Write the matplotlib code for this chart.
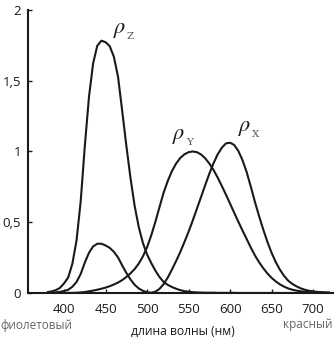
import matplotlib
matplotlib.use("Agg")
import matplotlib.pyplot as plt

# colour matching curves (5 nm steps)
wavelength = list(range(380, 725, 5))
rho_x = [0.001, 0.002, 0.004, 0.008, 0.014, 0.023, 0.044, 0.078, 0.134, 0.215,
         0.284, 0.329, 0.348, 0.348, 0.336, 0.319, 0.291, 0.251, 0.195, 0.142,
         0.096, 0.058, 0.032, 0.015, 0.005, 0.002, 0.009, 0.029, 0.063, 0.110,
         0.166, 0.226, 0.290, 0.360, 0.433, 0.512, 0.595, 0.678, 0.762, 0.843,
         0.916, 0.979, 1.026, 1.057, 1.062, 1.046, 1.003, 0.938, 0.854, 0.751,
         0.642, 0.542, 0.448, 0.361, 0.284, 0.219, 0.165, 0.121, 0.087, 0.064,
         0.047, 0.033, 0.023, 0.016, 0.011, 0.008, 0.006, 0.004, 0.003]
rho_y = [0.000, 0.000, 0.000, 0.000, 0.000, 0.001, 0.001, 0.002, 0.004, 0.007,
         0.012, 0.017, 0.023, 0.030, 0.038, 0.048, 0.060, 0.074, 0.091, 0.113,
         0.139, 0.169, 0.208, 0.259, 0.323, 0.407, 0.503, 0.608, 0.710, 0.793,
         0.862, 0.915, 0.954, 0.980, 0.995, 1.000, 0.995, 0.979, 0.952, 0.915,
         0.870, 0.816, 0.757, 0.695, 0.631, 0.567, 0.503, 0.441, 0.381, 0.321,
         0.265, 0.217, 0.175, 0.138, 0.107, 0.082, 0.061, 0.045, 0.032, 0.023,
         0.017, 0.012, 0.008, 0.006, 0.004, 0.003, 0.002, 0.001, 0.001]
rho_z = [0.006, 0.011, 0.020, 0.036, 0.068, 0.110, 0.207, 0.371, 0.646, 1.039,
         1.386, 1.623, 1.747, 1.783, 1.772, 1.744, 1.669, 1.528, 1.288, 1.042,
         0.813, 0.616, 0.465, 0.353, 0.272, 0.212, 0.158, 0.112, 0.078, 0.057,
         0.042, 0.030, 0.020, 0.013, 0.009, 0.006, 0.004, 0.003, 0.002, 0.002,
         0.002, 0.001, 0.001, 0.001, 0.001, 0.001, 0.000, 0.000, 0.000, 0.000,
         0.000, 0.000, 0.000, 0.000, 0.000, 0.000, 0.000, 0.000, 0.000, 0.000,
         0.000, 0.000, 0.000, 0.000, 0.000, 0.000, 0.000, 0.000, 0.000]

x_ticks = [400, 450, 500, 550, 600, 650, 700]
y_ticks = [0, 0.5, 1, 1.5, 2]
y_tick_labels = ["0", "0,5", "1", "1,5", "2"]

plt.rcParams["font.family"] = ["Open Sans", "DejaVu Sans"]

fig = plt.figure(figsize=(3.34, 3.41), dpi=100)
ax = fig.add_axes([0.084, 0.1408, 0.913, 0.830])

for curve in (rho_x, rho_y, rho_z):
    ax.plot(wavelength, curve, color="#1a1a1a", lw=1.5,
            solid_joinstyle="round", solid_capstyle="round")

ax.set_xlim(356.6, 724)
ax.set_ylim(0, 2)
ax.set_xticks(x_ticks)
ax.set_yticks(y_ticks)
ax.set_yticklabels(y_tick_labels)

for side in ("top", "right"):
    ax.spines[side].set_visible(False)
for side in ("left", "bottom"):
    ax.spines[side].set_linewidth(1.5)
    ax.spines[side].set_color("#1a1a1a")

ax.tick_params(axis="x", direction="in", length=3, width=1, pad=7,
               labelsize=9.5, colors="#1a1a1a")
ax.tick_params(axis="y", direction="in", length=3, width=1, pad=5,
               labelsize=9.5, colors="#1a1a1a")

# curve labels: italic rho with small grey serif subscript
labels = [("Z", 459, 1.86), ("Y", 530, 1.11), ("X", 610, 1.17)]
for sub, lx, ly in labels:
    ax.text(lx, ly, r"$\rho$", fontsize=16, color="#1a1a1a",
            ha="left", va="center", math_fontfamily="stix")
    ax.annotate(sub, (lx, ly), xytext=(10, -5), textcoords="offset points",
                fontsize=7.5, family="DejaVu Serif", color="#555555",
                ha="left", va="center")

fig.text(0.0, 0.046, "фиолетовый", fontsize=8.5, color="#666666",
         ha="left", va="center")
fig.text(0.997, 0.048, "красный", fontsize=8.5, color="#666666",
         ha="right", va="center")
fig.text(0.548, 0.027, "длина волны (нм)", fontsize=8.7, color="#1a1a1a",
         ha="center", va="center")

fig.savefig("out.png", dpi=100)
